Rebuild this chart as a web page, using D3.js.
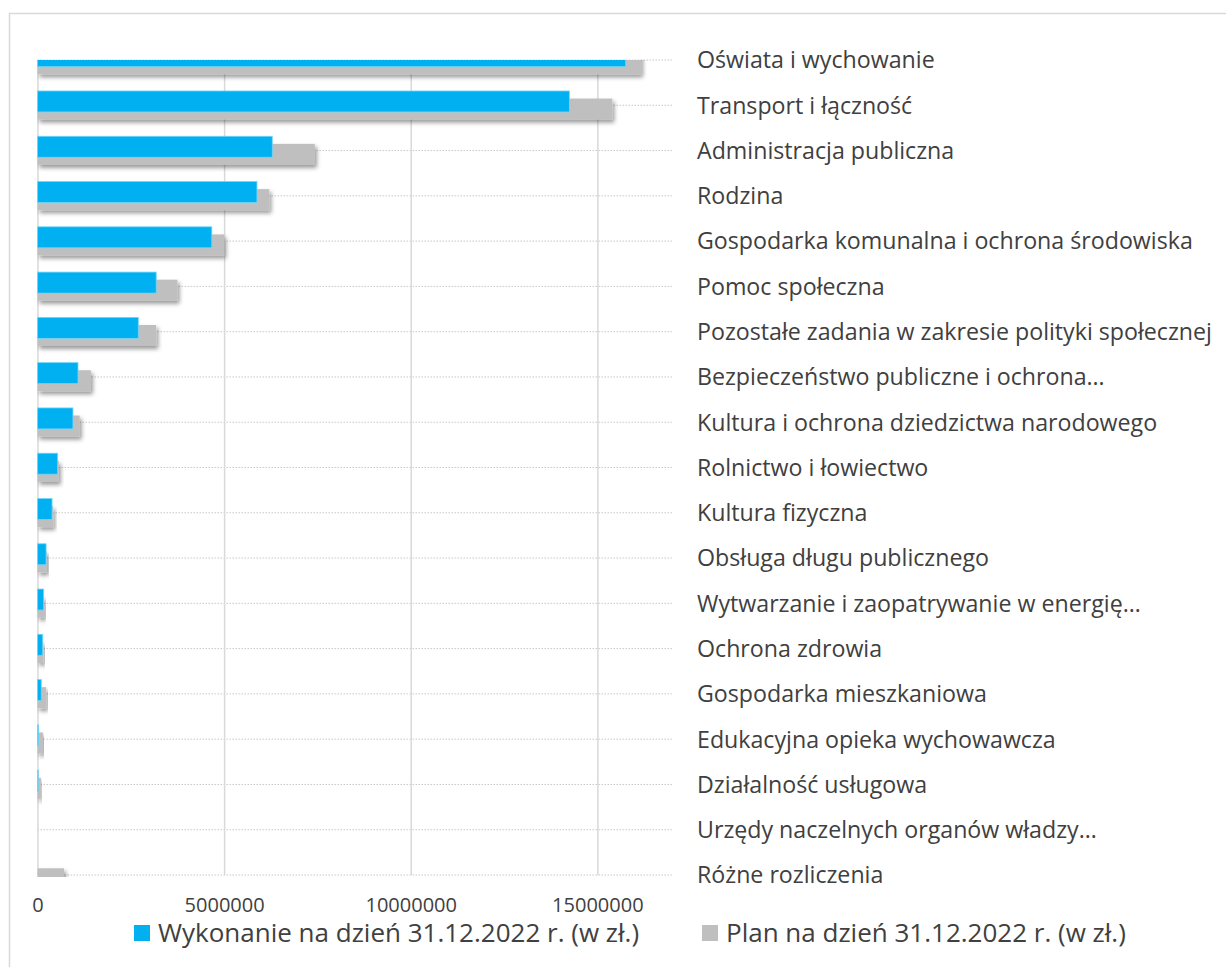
<!DOCTYPE html>
<html>
<head>
<meta charset="utf-8">
<script src="https://cdn.jsdelivr.net/npm/d3@7"></script>
<style>
  body { margin: 0; background: #fff; }
  text { font-family: "Open Sans", sans-serif; fill: #404040; }
</style>
</head>
<body>
<div id="chart"></div>
<script>
var w = 1226;
var h = 967;

var categories = [
    'Oświata i wychowanie',
    'Transport i łączność',
    'Administracja publiczna',
    'Rodzina',
    'Gospodarka komunalna i ochrona środowiska',
    'Pomoc społeczna',
    'Pozostałe zadania w zakresie polityki społecznej',
    'Bezpieczeństwo publiczne i ochrona…',
    'Kultura i ochrona dziedzictwa narodowego',
    'Rolnictwo i łowiectwo',
    'Kultura fizyczna',
    'Obsługa długu publicznego',
    'Wytwarzanie i zaopatrywanie w energię…',
    'Ochrona zdrowia',
    'Gospodarka mieszkaniowa',
    'Edukacyjna opieka wychowawcza',
    'Działalność usługowa',
    'Urzędy naczelnych organów władzy…',
    'Różne rozliczenia'
];

// Wykonanie na dzień 31.12.2022 r. (w zł.)
var wykonanie = [15760000, 14250000, 6290000, 5880000, 4670000, 3180000, 2700000,
                 1085000, 950000, 540000, 390000, 230000, 165000, 140000, 100000,
                 30000, 20000, 0, 0];

// Plan na dzień 31.12.2022 r. (w zł.)
var plan = [16170000, 15400000, 7430000, 6210000, 5000000, 3750000, 3180000,
            1430000, 1130000, 570000, 420000, 250000, 175000, 155000, 230000,
            145000, 90000, 0, 710000];

var xTicks = [0, 5000000, 10000000, 15000000];

var legendNames = ['Wykonanie na dzień 31.12.2022 r. (w zł.)', 'Plan na dzień 31.12.2022 r. (w zł.)'];
var blue = '#00b0f0';
var grey = '#bfbfbf';

var svg = d3.select('#chart')
            .append('svg')
            .attr('width', w)
            .attr('height', h);

var defs = svg.append('defs');
defs.append('clipPath').attr('id', 'plotclip')
    .append('rect')
    .attr('x', 37).attr('y', 60)
    .attr('width', 640).attr('height', 817);

var shadow = defs.append('filter').attr('id', 'shadow')
                 .attr('x', '-20%').attr('y', '-50%')
                 .attr('width', '140%').attr('height', '200%');
shadow.append('feDropShadow')
      .attr('dx', 2).attr('dy', 3)
      .attr('stdDeviation', 2)
      .attr('flood-color', '#000')
      .attr('flood-opacity', 0.4);

// chart frame
svg.append('rect')
   .attr('x', 9.5).attr('y', 13.5)
   .attr('width', 1300).attr('height', 1000)
   .attr('fill', '#fff')
   .attr('stroke', '#d9d9d9')
   .attr('stroke-width', 1.5);

var x = d3.scaleLinear()
          .domain([0, 17000000])
          .range([37.5, 672]);

var y = d3.scalePoint()
          .domain(categories)
          .range([60, 875]);

// horizontal dotted lines
svg.append('g')
   .selectAll('line')
   .data(categories)
   .enter()
   .append('line')
   .attr('x1', x(0))
   .attr('x2', x.range()[1])
   .attr('y1', function(d) { return y(d); })
   .attr('y2', function(d) { return y(d); })
   .attr('stroke', '#c8c8c8')
   .attr('stroke-width', 1)
   .attr('stroke-dasharray', '1.5,1.5');

// vertical gridlines
svg.append('g')
   .attr('transform', 'translate(0,875)')
   .call(d3.axisBottom(x).tickValues(xTicks).tickSize(-815).tickFormat(''))
   .call(function(g) { g.select('.domain').remove(); })
   .selectAll('line')
   .attr('stroke', '#d9d9d9')
   .attr('stroke-width', 1.5);

var bars = svg.append('g').attr('clip-path', 'url(#plotclip)');

// plan (grey, behind, shifted down)
bars.append('g')
    .selectAll('rect')
    .data(plan)
    .enter()
    .append('rect')
    .attr('x', x(0))
    .attr('y', function(d, i) { return y(categories[i]) - 6.7; })
    .attr('width', function(d) { return x(d) - x(0); })
    .attr('height', 21)
    .attr('fill', grey)
    .attr('filter', function(d) { return d > 0 ? 'url(#shadow)' : null; });

// wykonanie (blue, in front)
bars.append('g')
    .selectAll('rect')
    .data(wykonanie)
    .enter()
    .append('rect')
    .attr('x', x(0))
    .attr('y', function(d, i) { return y(categories[i]) - 14.3; })
    .attr('width', function(d) { return x(d) - x(0); })
    .attr('height', 21)
    .attr('fill', blue)
    .attr('stroke', function(d) { return d > 0 ? '#74d6f8' : 'none'; })
    .attr('stroke-width', 0.8);

// category labels
svg.append('g')
   .selectAll('text')
   .data(categories)
   .enter()
   .append('text')
   .attr('x', 697)
   .attr('y', function(d) { return y(d); })
   .attr('dy', '0.36em')
   .style('font-size', '23.2px')
   .text(function(d) { return d; });

// x tick labels
var xAxis = svg.append('g')
   .attr('transform', 'translate(0,875)')
   .call(d3.axisBottom(x).tickValues(xTicks).tickSize(0).tickPadding(23).tickFormat(d3.format('d')));
xAxis.select('.domain').remove();
xAxis.selectAll('text')
     .attr('font-family', null)
     .style('font-size', '20px')
     .style('fill', '#404040');

// legend
var legendX = [134, 702];
var legend = svg.append('g')
                .selectAll('g')
                .data(legendNames)
                .enter()
                .append('g')
                .attr('transform', function(d, i) { return 'translate(' + legendX[i] + ',925)'; });
legend.append('rect')
      .attr('width', 16).attr('height', 16)
      .attr('fill', function(d, i) { return i == 0 ? blue : grey; });
legend.append('text')
      .attr('x', 24)
      .attr('y', 16.5)
      .style('font-size', '26px')
      .text(function(d) { return d; });
</script>
</body>
</html>
